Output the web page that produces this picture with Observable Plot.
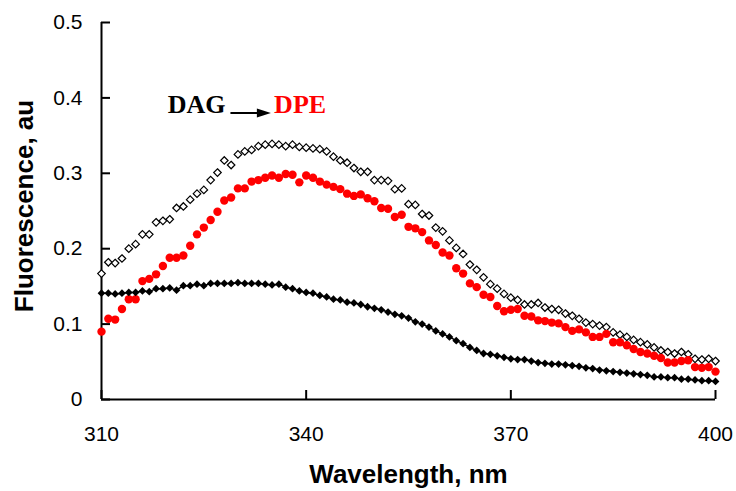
<!DOCTYPE html>
<html><head><meta charset="utf-8">
<script src="https://cdn.jsdelivr.net/npm/d3@7"></script>
<script src="https://cdn.jsdelivr.net/npm/@observablehq/plot@0.6"></script>
<style>body{margin:0;background:#fff;} svg{display:block;}</style>
</head><body><div id="chart"></div>
<script>
const wavelength = [310,311,312,313,314,315,316,317,318,319,320,321,322,323,324,325,326,327,328,329,330,331,332,333,334,335,336,337,338,339,340,341,342,343,344,345,346,347,348,349,350,351,352,353,354,355,356,357,358,359,360,361,362,363,364,365,366,367,368,369,370,371,372,373,374,375,376,377,378,379,380,381,382,383,384,385,386,387,388,389,390,391,392,393,394,395,396,397,398,399,400];
const openDiamond = [0.167,0.182,0.181,0.187,0.200,0.206,0.219,0.219,0.235,0.237,0.239,0.254,0.256,0.265,0.273,0.278,0.291,0.301,0.317,0.311,0.325,0.329,0.331,0.336,0.338,0.339,0.338,0.336,0.338,0.335,0.334,0.333,0.332,0.329,0.322,0.317,0.314,0.307,0.302,0.302,0.291,0.291,0.290,0.279,0.280,0.259,0.258,0.246,0.244,0.228,0.223,0.211,0.201,0.193,0.179,0.172,0.162,0.153,0.147,0.140,0.135,0.132,0.126,0.126,0.128,0.122,0.120,0.119,0.114,0.111,0.107,0.102,0.100,0.098,0.096,0.089,0.086,0.083,0.079,0.076,0.073,0.069,0.065,0.063,0.061,0.063,0.060,0.054,0.053,0.054,0.051];
const redCircle = [0.090,0.107,0.106,0.120,0.133,0.133,0.157,0.160,0.166,0.177,0.188,0.188,0.191,0.204,0.219,0.228,0.238,0.249,0.264,0.268,0.280,0.280,0.289,0.291,0.294,0.297,0.294,0.299,0.298,0.288,0.297,0.294,0.289,0.285,0.282,0.279,0.273,0.270,0.272,0.267,0.263,0.254,0.253,0.242,0.245,0.229,0.227,0.222,0.211,0.205,0.195,0.191,0.174,0.167,0.154,0.149,0.139,0.136,0.124,0.117,0.119,0.120,0.111,0.110,0.105,0.104,0.102,0.101,0.096,0.091,0.093,0.089,0.083,0.083,0.087,0.076,0.076,0.072,0.067,0.063,0.061,0.058,0.055,0.049,0.049,0.051,0.052,0.043,0.042,0.043,0.037];
const blackDiamond = [0.141,0.141,0.140,0.141,0.142,0.142,0.144,0.143,0.147,0.147,0.148,0.145,0.151,0.151,0.153,0.151,0.154,0.154,0.154,0.154,0.155,0.154,0.154,0.154,0.153,0.152,0.153,0.149,0.147,0.144,0.142,0.141,0.138,0.136,0.133,0.132,0.129,0.128,0.126,0.123,0.121,0.119,0.116,0.113,0.111,0.108,0.103,0.100,0.096,0.091,0.087,0.083,0.078,0.074,0.069,0.065,0.061,0.060,0.058,0.056,0.054,0.053,0.053,0.051,0.049,0.048,0.047,0.047,0.046,0.045,0.044,0.042,0.041,0.039,0.038,0.037,0.036,0.035,0.034,0.033,0.032,0.030,0.030,0.029,0.029,0.027,0.027,0.026,0.025,0.025,0.024];
const xTicks = [310, 340, 370, 400];
const yTicks = [0, 0.1, 0.2, 0.3, 0.4, 0.5];
const yTickLabels = ["0", "0.1", "0.2", "0.3", "0.4", "0.5"];
const xTitle = "Wavelength, nm";
const yTitle = "Fluorescence, au";
const annoLabels = ["DAG", "DPE"];
const annoX = [319.7, 335.3];
const annoY = [0.391, 0.391];
const annoColors = ["#000000", "#FF0000"];
const arrowX = [328.9, 333.8];
const arrowY = [0.380, 0.380];

const rows = wavelength.map((w, i) => ({w, open: openDiamond[i], red: redCircle[i], black: blackDiamond[i]}));
const anno = annoLabels.map((t, i) => ({t, x: annoX[i], y: annoY[i], c: annoColors[i]}));

const W = 736, H = 491, mL = 101, mR = 21, mT = 22, mB = 92;
const tickLen = 9;

const arrowHead = {
  draw(ctx) {
    ctx.moveTo(7, 0);
    ctx.lineTo(-7, -4.5);
    ctx.lineTo(-7, 4.5);
    ctx.closePath();
  }
};

const chart = Plot.plot({
  width: W,
  height: H,
  marginLeft: mL,
  marginRight: mR,
  marginTop: mT,
  marginBottom: mB,
  style: {fontFamily: "'Liberation Sans', Arial, sans-serif", color: "#000", background: "#fff"},
  x: {domain: [310, 400]},
  y: {domain: [0, 0.5]},
  marks: [
    Plot.axisY({ticks: yTicks, tickSize: 0, tickPadding: 19, fontSize: 21, stroke: "none", label: null, tickFormat: d => yTickLabels[yTicks.indexOf(d)]}),
    Plot.axisX({ticks: xTicks, tickSize: 0, tickPadding: 27, fontSize: 21, stroke: "none", label: null, tickFormat: d => String(d)}),
    Plot.tickY(yTicks, {y: d => d, insetRight: (W - mL - mR) - tickLen, stroke: "#000", strokeWidth: 2}),
    Plot.tickX(xTicks, {x: d => d, insetTop: (H - mT - mB) - tickLen, stroke: "#000", strokeWidth: 2}),
    Plot.ruleX([xTicks[0]], {strokeWidth: 2}),
    Plot.ruleY([yTicks[0]], {strokeWidth: 2}),
    Plot.dot(rows, {x: "w", y: "open", symbol: "diamond2", r: 3.4, stroke: "#000", strokeWidth: 1.2, fill: "#fff"}),
    Plot.dot(rows, {x: "w", y: "red", r: 4.2, fill: "#FF0000", stroke: "none"}),
    Plot.line(rows, {x: "w", y: "black", stroke: "#000", strokeWidth: 1.5}),
    Plot.dot(rows, {x: "w", y: "black", symbol: "diamond2", r: 3.5, fill: "#000", stroke: "none"}),
    Plot.text(anno, {x: "x", y: "y", text: "t", fill: "c", textAnchor: "start", fontSize: 26, fontWeight: "bold", fontFamily: "'Liberation Serif', 'Times New Roman', serif"}),
    Plot.link([0], {x1: () => arrowX[0], y1: () => arrowY[0], x2: () => arrowX[1], y2: () => arrowY[1], stroke: "#000", strokeWidth: 2}),
    Plot.dot([0], {x: () => arrowX[1], y: () => arrowY[1], symbol: arrowHead, fill: "#000", stroke: "none"}),
    Plot.text([yTitle], {frameAnchor: "left", textAnchor: "middle", lineAnchor: "middle", rotate: -90, dx: -77, dy: -5, fontSize: 26, fontWeight: "bold"}),
    Plot.text([xTitle], {frameAnchor: "bottom", textAnchor: "middle", lineAnchor: "middle", dy: 75, fontSize: 26, fontWeight: "bold"})
  ]
});
document.getElementById("chart").appendChild(chart);
</script>
</body></html>
